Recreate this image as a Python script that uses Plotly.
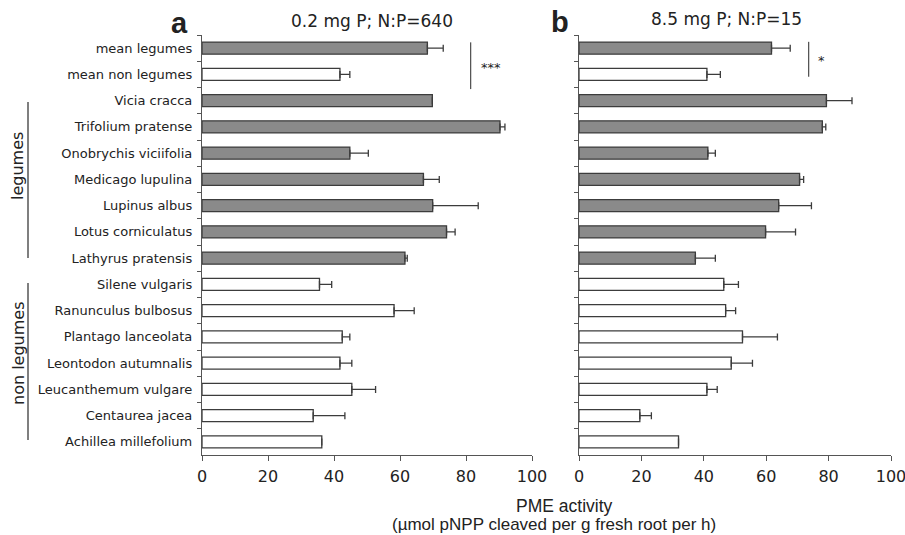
import plotly.graph_objects as go

W, H = 905, 535

categories = ["mean legumes", "mean non legumes", "Vicia cracca", "Trifolium pratense",
              "Onobrychis viciifolia", "Medicago lupulina", "Lupinus albus", "Lotus corniculatus",
              "Lathyrus pratensis", "Silene vulgaris", "Ranunculus bulbosus", "Plantago lanceolata",
              "Leontodon autumnalis", "Leucanthemum vulgare", "Centaurea jacea", "Achillea millefolium"]
is_legume = [True, False, True, True, True, True, True, True, True,
             False, False, False, False, False, False, False]

values_a = [68.3, 41.8, 69.8, 90.3, 44.8, 67.1, 69.9, 74.1, 61.5,
            35.6, 58.2, 42.5, 41.8, 45.4, 33.7, 36.3]
errors_a = [4.8, 3.0, 0.0, 1.5, 5.6, 4.8, 13.8, 2.6, 0.7,
            3.7, 6.1, 2.3, 3.6, 7.2, 9.6, 0.0]

values_b = [61.7, 41.0, 79.3, 78.0, 41.3, 70.7, 64.0, 59.8, 37.3,
            46.4, 47.0, 52.4, 48.8, 41.0, 19.5, 31.9]
errors_b = [6.0, 4.3, 8.2, 1.1, 2.4, 1.3, 10.5, 9.6, 6.4,
            4.7, 3.2, 11.2, 6.8, 3.3, 3.7, 0.0]

x_ticks = [0, 20, 40, 60, 80, 100]

GRAY = "#8a8a8a"
LINE = "#3c3c3c"
AX = "#555555"
TXT = "#222222"

fills = [GRAY if l else "white" for l in is_legume]


def px(x):
    return x / W


def py(y):
    return 1 - y / H


fig = go.Figure()
for vals, errs, xa, ya in [(values_a, errors_a, "x", "y"), (values_b, errors_b, "x2", "y2")]:
    fig.add_trace(go.Bar(
        y=categories, x=vals, orientation="h", xaxis=xa, yaxis=ya,
        width=0.46,
        marker=dict(color=fills, line=dict(color=LINE, width=1.3)),
        error_x=dict(type="data", symmetric=False, array=errs, arrayminus=[0] * len(errs),
                     color=LINE, thickness=1.3, width=3.5),
        showlegend=False, hoverinfo="x+y",
    ))

yd = [py(455), py(35)]
common_x = dict(range=[0, 100], tickvals=x_ticks, ticks="outside", ticklen=5, tickcolor=AX,
                tickwidth=1.3, showline=True, linecolor=AX, linewidth=1.3, showgrid=False,
                zeroline=False, tickfont=dict(family="DejaVu Sans", size=16, color=TXT),
                automargin=False, ticklabelstandoff=2, ticklabeloverflow="allow",
                fixedrange=True)
common_y = dict(type="category", autorange="reversed", ticks="outside", ticklen=4,
                tickson="boundaries", tickcolor=AX, tickwidth=1.3, showline=True,
                linecolor=AX, linewidth=1.3, showgrid=False, zeroline=False,
                domain=yd, automargin=False, fixedrange=True)

fig.update_layout(
    width=W, height=H, margin=dict(l=0, r=0, t=0, b=0, autoexpand=False),
    paper_bgcolor="white", plot_bgcolor="white",
    bargap=0.5,
    xaxis=dict(common_x, domain=[px(202), px(532)], anchor="y"),
    xaxis2=dict(common_x, domain=[px(579), px(891)], anchor="y2"),
    yaxis=dict(common_y, anchor="x",
               tickfont=dict(family="DejaVu Sans", size=13, color=TXT), ticklabelstandoff=6),
    yaxis2=dict(common_y, anchor="x2", showticklabels=False),
)

# significance brackets
fig.add_shape(type="line", xref="x", yref="y", x0=81.4, x1=81.4, y0=-0.22, y1=1.56,
              line=dict(color=AX, width=1.3))
fig.add_shape(type="line", xref="x2", yref="y2", x0=73.6, x1=73.6, y0=-0.24, y1=1.09,
              line=dict(color=AX, width=1.3))

# group lines
fig.add_shape(type="line", xref="paper", yref="paper", x0=px(28), x1=px(28), y0=py(102), y1=py(258),
              line=dict(color=AX, width=1.5))
fig.add_shape(type="line", xref="paper", yref="paper", x0=px(28), x1=px(28), y0=py(283), y1=py(440),
              line=dict(color=AX, width=1.5))

anns = [
    dict(text="a", x=179, y=23, size=29, family="Liberation Sans", bold=True),
    dict(text="b", x=560, y=22, size=29, family="Liberation Sans", bold=True),
    dict(text="0.2 mg P; N:P=640", x=372, y=21, size=17, family="DejaVu Sans"),
    dict(text="8.5 mg P; N:P=15", x=726, y=19, size=17, family="DejaVu Sans"),
    dict(text="***", x=491, y=68, size=13, family="DejaVu Sans"),
    dict(text="*", x=821, y=60, size=13, family="DejaVu Sans"),
    dict(text="PME activity", x=564, y=506, size=17.5, family="Liberation Sans"),
    dict(text="(µmol pNPP cleaved per g fresh root per h)", x=554, y=524, size=17,
         family="Liberation Sans"),
]
for a in anns:
    t = "<b>%s</b>" % a["text"] if a.get("bold") else a["text"]
    fig.add_annotation(text=t, xref="paper", yref="paper", x=px(a["x"]), y=py(a["y"]),
                       xanchor="center", yanchor="middle", showarrow=False,
                       font=dict(family=a["family"], size=a["size"], color=TXT))

fig.add_annotation(text="legumes", xref="paper", yref="paper", x=px(18), y=py(166),
                   textangle=-90, showarrow=False, xanchor="center", yanchor="middle",
                   font=dict(family="DejaVu Sans", size=16, color=TXT))
fig.add_annotation(text="non legumes", xref="paper", yref="paper", x=px(18), y=py(353),
                   textangle=-90, showarrow=False, xanchor="center", yanchor="middle",
                   font=dict(family="DejaVu Sans", size=16, color=TXT))

# remove the browser's default 8px body margin so the figure sits at the window's origin
fig.write_html("out.html", config={"displayModeBar": False},
               post_script="document.body.style.margin='0';")
